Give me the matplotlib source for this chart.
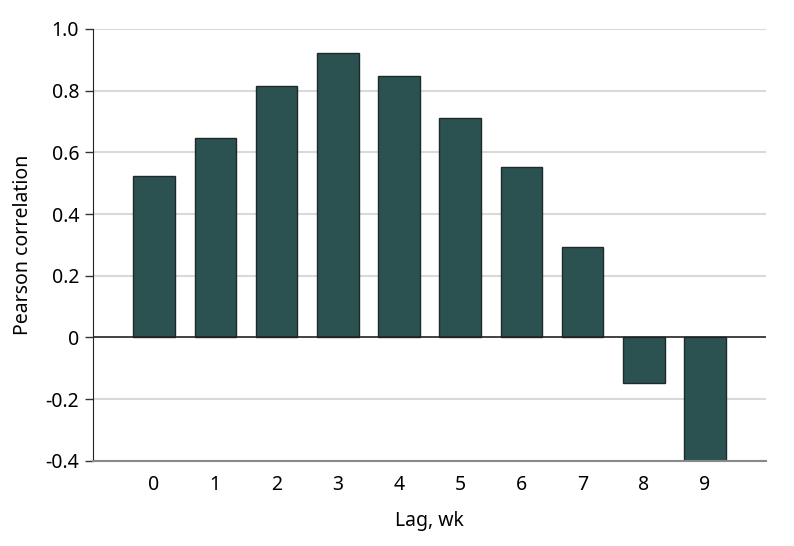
import numpy as np
import matplotlib.pyplot as plt

lags = [0, 1, 2, 3, 4, 5, 6, 7, 8, 9]
corr = [0.522, 0.648, 0.814, 0.921, 0.847, 0.711, 0.551, 0.292, -0.149, -0.40]
yticks = [-0.4, -0.2, 0, 0.2, 0.4, 0.6, 0.8, 1.0]
ytick_labels = ['-0.4', '-0.2', '0', '0.2', '0.4', '0.6', '0.8', '1.0']

plt.rcParams['font.family'] = ['Noto Sans', 'DejaVu Sans']

fig = plt.figure(figsize=(7.94, 5.46), dpi=100)
ax = fig.add_axes([0.117, 0.156, 0.848, 0.791])

# grid first, bars above it
for y in yticks:
    if y != 0:
        ax.axhline(y, color='#d9d9d9', lw=1.5, zorder=0)

ax.bar(lags, corr, width=0.68, color='#2b5250', edgecolor='#1e2a2a',
       linewidth=1.0, zorder=2)
ax.axhline(0, color='#222222', lw=1.2, zorder=3)

ax.set_xlim(-1, 10)
ax.set_ylim(-0.4, 1.0)
ax.set_xticks(lags)
ax.set_xticklabels([str(l) for l in lags])
ax.set_yticks(yticks)
ax.set_yticklabels(ytick_labels)

ax.tick_params(axis='x', length=0, pad=10, labelsize=14)
ax.tick_params(axis='y', length=6, width=1, pad=4, labelsize=14, color='#333333')

for side in ['top', 'right']:
    ax.spines[side].set_visible(False)
ax.spines['left'].set_color('#222222')
ax.spines['bottom'].set_color('#888888')
ax.spines['bottom'].set_linewidth(1.5)

ax.set_xlabel('Lag, wk', fontsize=14, labelpad=12)
ax.set_ylabel('Pearson correlation', fontsize=14, labelpad=9)

fig.savefig('out.png', dpi=100)
